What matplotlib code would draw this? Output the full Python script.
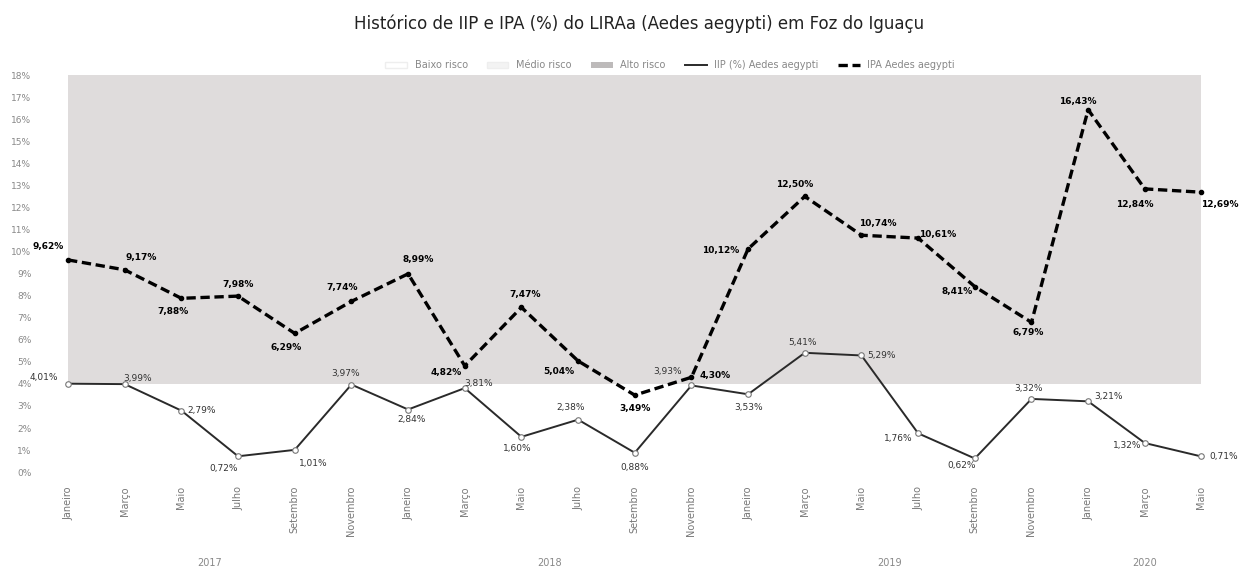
import matplotlib
matplotlib.use("Agg")
import matplotlib.pyplot as plt
from matplotlib.patches import Patch
from matplotlib.lines import Line2D

# ---- data ----
months = ["Janeiro", "Março", "Maio", "Julho", "Setembro", "Novembro",
          "Janeiro", "Março", "Maio", "Julho", "Setembro", "Novembro",
          "Janeiro", "Março", "Maio", "Julho", "Setembro", "Novembro",
          "Janeiro", "Março", "Maio"]
years = ["2017", "2018", "2019", "2020"]
year_counts = [6, 6, 6, 3]

iip = [4.01, 3.99, 2.79, 0.72, 1.01, 3.97, 2.84, 3.81, 1.60, 2.38, 0.88,
       3.93, 3.53, 5.41, 5.29, 1.76, 0.62, 3.32, 3.21, 1.32, 0.71]
ipa = [9.62, 9.17, 7.88, 7.98, 6.29, 7.74, 8.99, 4.82, 7.47, 5.04, 3.49,
       4.30, 10.12, 12.50, 10.74, 10.61, 8.41, 6.79, 16.43, 12.84, 12.69]

risk_names = ["Baixo risco", "Médio risco", "Alto risco"]
risk_limits = [0, 1, 4, 18]

title = "Histórico de IIP e IPA (%) do LIRAa (Aedes aegypti) em Foz do Iguaçu"

# ---- label offsets (pixels) ----
ipa_off = [(-20, 13), (16, 12), (-8, -13), (0, 12), (-9, -14), (-9, 14), (10, 14),
           (-19, -7), (4, 13), (-19, -11), (0, -13), (24, 2), (-27, -2), (-10, 12),
           (16, 12), (20, 4), (-18, -5), (-3, -10), (-10, 8), (-10, -16), (18, -12)]
iip_off = [(-24, 6), (13, 6), (20, 0), (-14, -12), (19, -14), (-6, 11), (3, -10),
           (14, 5), (-4, -12), (-7, 12), (0, -15), (-24, 14), (0, -13), (-2, 10),
           (20, 0), (-20, -5), (-13, -7), (-3, 10), (20, 5), (-18, -2), (22, 0)]

fig = plt.figure(figsize=(12.41, 5.73), dpi=100)
ax = fig.add_axes([0.032, 0.176, 0.959, 0.693])

x = list(range(len(months)))
risk_colors = ["#ffffff", "#ffffff", "#dfdcdc"]
for i in range(3):
    ax.fill_between(x, [risk_limits[i]] * len(x), [risk_limits[i + 1]] * len(x),
                    color=risk_colors[i], linewidth=0, zorder=1)

ax.plot(x, iip, color="#2a2a2a", linewidth=1.4, marker="o", markersize=4,
        markerfacecolor="white", markeredgecolor="#777777", markeredgewidth=0.8, zorder=3)
ax.plot(x, ipa, color="black", linewidth=2.4, dashes=(2.8, 1.4), marker="o",
        markersize=3, markerfacecolor="black", markeredgecolor="black", zorder=4)

def fmt(v):
    return f"{v:.2f}".replace(".", ",") + "%"

for i, v in enumerate(ipa):
    ax.annotate(fmt(v), (i, v), xytext=ipa_off[i], textcoords="offset pixels",
                ha="center", va="center", fontsize=6.5, fontweight="bold",
                color="black", zorder=6)
for i, v in enumerate(iip):
    ax.annotate(fmt(v), (i, v), xytext=iip_off[i], textcoords="offset pixels",
                ha="center", va="center", fontsize=6.5, color="#333333", zorder=6)

ax.set_xlim(-0.5, len(x) - 0.5)
ax.set_ylim(0, 18)
ax.set_yticks(range(0, 19))
ax.set_yticklabels([f"{t}%" for t in range(0, 19)], fontsize=6.5, color="#888888")
ax.set_xticks(x)
ax.set_xticklabels(months, rotation=90, fontsize=7, color="#777777", va="top")
ax.tick_params(length=0, pad=10)
ax.tick_params(axis="y", pad=6)
for s in ax.spines.values():
    s.set_visible(False)

# year labels
start = 0
for yr, n in zip(years, year_counts):
    center = start + (n - 1) / 2
    ax.annotate(yr, (center, 0), xycoords=("data", "axes fraction"),
                xytext=(0, -91), textcoords="offset pixels", ha="center",
                va="center", fontsize=7, color="#888888")
    start += n

fig.text(0.515, 0.958, title, ha="center", va="center", fontsize=12, color="#222222")

handles = [Patch(facecolor="#ffffff", edgecolor="#eeeeee", label=risk_names[0]),
           Patch(facecolor="#f3f3f3", edgecolor="#eeeeee", label=risk_names[1]),
           Patch(facecolor="#bdbaba", edgecolor="none", label=risk_names[2]),
           Line2D([], [], color="#2a2a2a", linewidth=1.4, label="IIP (%) Aedes aegypti"),
           Line2D([], [], color="black", linewidth=2.4, dashes=(2.8, 1.4),
                  label="IPA Aedes aegypti")]
leg = fig.legend(handles=handles, loc="center", bbox_to_anchor=(0.54, 0.886), ncol=5,
                 frameon=False, fontsize=7, handlelength=2.2, columnspacing=2.0)
for t in leg.get_texts():
    t.set_color("#888888")

fig.savefig("out.png", dpi=100, facecolor="white")
